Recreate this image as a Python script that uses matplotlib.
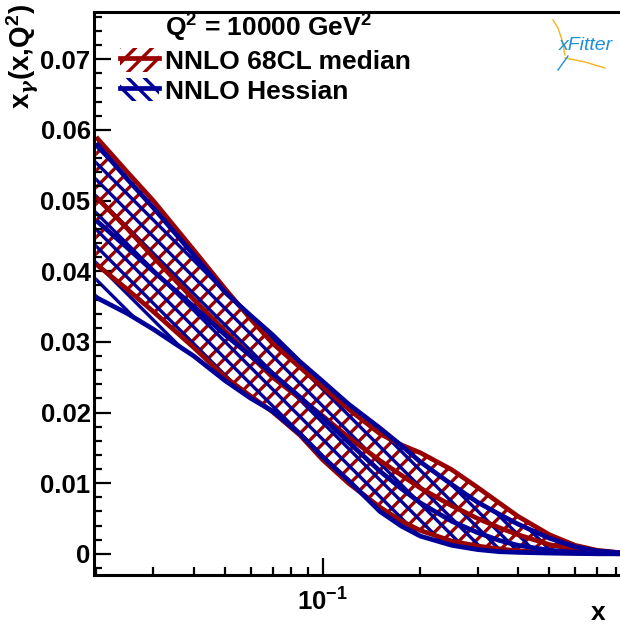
import numpy as np
import matplotlib
matplotlib.use('Agg')
import matplotlib.pyplot as plt
from matplotlib.ticker import LogLocator, FixedLocator, FuncFormatter, NullFormatter, MultipleLocator
from matplotlib.patches import Patch
from matplotlib.lines import Line2D

plt.rcParams['font.family'] = ['Liberation Sans', 'DejaVu Sans']
plt.rcParams['font.weight'] = 'bold'
plt.rcParams['mathtext.fontset'] = 'custom'
plt.rcParams['mathtext.rm'] = 'Liberation Sans:bold'
plt.rcParams['mathtext.bf'] = 'Liberation Sans:bold'
plt.rcParams['mathtext.it'] = 'DejaVu Serif:italic'
plt.rcParams['hatch.linewidth'] = 2.4

# x grid of the PDF curves
x = [0.02, 0.025, 0.03, 0.04, 0.05, 0.06, 0.07, 0.085, 0.1, 0.12, 0.15,
     0.175, 0.2, 0.25, 0.3, 0.35, 0.4, 0.5, 0.6, 0.7, 0.85]

# NNLO 68CL median band (red)
red_up = [0.0590, 0.0540, 0.0500, 0.0430, 0.0375, 0.0332, 0.0298, 0.0264, 0.0236, 0.0205, 0.0170,
          0.0154, 0.0143, 0.0119, 0.0094, 0.0072, 0.0053, 0.0027, 0.0012, 0.0005, 0.0001]
red_mid = [0.0505, 0.0460, 0.0420, 0.0360, 0.0315, 0.0280, 0.0250, 0.0220, 0.0195, 0.0165, 0.0132,
           0.0111, 0.0093, 0.0068, 0.0050, 0.0037, 0.0027, 0.0013, 0.0006, 0.0002, 0.00005]
red_lo = [0.0410, 0.0374, 0.0343, 0.0292, 0.0250, 0.0223, 0.0201, 0.0168, 0.0133, 0.0100, 0.0066,
          0.0046, 0.0033, 0.0018, 0.0011, 0.0007, 0.0004, 0.0002, 0.0001, 0.00005, 0.0]

# NNLO Hessian band (blue)
blue_up = [0.0581, 0.0530, 0.0490, 0.0423, 0.0370, 0.0337, 0.0310, 0.0272, 0.0244, 0.0212, 0.0178,
           0.0153, 0.0130, 0.0098, 0.0073, 0.0056, 0.0042, 0.0022, 0.0010, 0.0004, 0.0001]
blue_mid = [0.0472, 0.0433, 0.0400, 0.0350, 0.0310, 0.0280, 0.0255, 0.0222, 0.0193, 0.0158, 0.0117,
            0.0092, 0.0072, 0.0046, 0.0030, 0.0019, 0.0012, 0.0005, 0.0002, 0.0001, 0.0]
blue_lo = [0.0363, 0.0340, 0.0318, 0.0280, 0.0245, 0.0220, 0.0202, 0.0170, 0.0137, 0.0104, 0.0060,
           0.0039, 0.0025, 0.0012, 0.0006, 0.0003, 0.0002, 0.0001, 0.00005, 0.0, 0.0]

red = '#990000'
blue = '#000099'

fig = plt.figure(figsize=(6.2, 6.27), dpi=100)
ax = fig.add_axes([94/620, 52/627, 526/620, 563/627])

ax.fill_between(x, red_lo, red_up, facecolor='none', edgecolor=red, hatch='//', linewidth=0)
for yy in (red_up, red_mid, red_lo):
    ax.plot(x, yy, color=red, lw=3.4, solid_capstyle='butt', solid_joinstyle='round')
ax.fill_between(x, blue_lo, blue_up, facecolor='none', edgecolor=blue, hatch='\\\\', linewidth=0)
for yy in (blue_up, blue_mid, blue_lo):
    ax.plot(x, yy, color=blue, lw=3.4, solid_capstyle='butt', solid_joinstyle='round')

ax.set_xscale('log')
ax.set_xlim(0.0197, 0.825)
ax.set_ylim(-0.003, 0.0767)

ax.xaxis.set_major_locator(FixedLocator([0.1]))
ax.xaxis.set_minor_locator(LogLocator(base=10, subs=np.arange(2, 10)))
ax.xaxis.set_major_formatter(FuncFormatter(lambda v, p: r'$\mathbf{10^{-1}}$'))
ax.xaxis.set_minor_formatter(NullFormatter())
ax.yaxis.set_major_locator(MultipleLocator(0.01))
ax.yaxis.set_minor_locator(MultipleLocator(0.002))
ax.yaxis.set_major_formatter(FuncFormatter(lambda v, p: '0' if abs(v) < 1e-9 else '%.2f' % v))

ax.tick_params(which='both', direction='in', top=False, right=False, width=1.6)
ax.tick_params(which='major', length=12)
ax.tick_params(which='minor', length=6)
ax.tick_params(axis='y', labelsize=18.5, pad=2.5)
ax.tick_params(axis='x', labelsize=18.5, pad=10)
for lab in ax.get_xticklabels() + ax.get_yticklabels():
    lab.set_fontweight('bold')

for s in ('left', 'bottom', 'top'):
    ax.spines[s].set_linewidth(2.2)
ax.spines['right'].set_visible(False)

# legend
ax.text(0.135, 0.972, r'Q$^{2}$ = 10000 GeV$^{2}$', transform=ax.transAxes,
        fontsize=19, fontweight='bold', va='center', ha='left')
h_red = (Patch(facecolor='none', edgecolor=red, hatch='//', linewidth=0),
         Line2D([], [], color=red, lw=3.4))
h_blue = (Patch(facecolor='none', edgecolor=blue, hatch='\\\\', linewidth=0),
          Line2D([], [], color=blue, lw=3.4))
leg = ax.legend([h_red, h_blue], ['NNLO 68CL median', 'NNLO Hessian'],
                loc='upper left', bbox_to_anchor=(0.049, 0.936), frameon=False,
                prop={'size': 19, 'weight': 'bold'}, handlelength=1.5, handleheight=1.0,
                handletextpad=0.2, labelspacing=0.15, borderpad=0, borderaxespad=0)

# axis titles
fig.text(23/620, 1 - 4/627, r'x$_{\gamma}$(x,Q$^{2}$)', rotation=90, ha='center', va='top',
         fontsize=20, fontweight='bold')
fig.text(598/620, 1 - 613/627, 'x', ha='center', va='center', fontsize=19, fontweight='bold')

# xFitter logo
fig.text(586/620, 1 - 46/627, 'xFitter', ha='center', va='center', fontsize=14,
         style='italic', fontweight='normal', color='#1e8fd8')
fig.add_artist(Line2D([553/620, 558/620, 562/620, 565/620], [1 - 20/627, 1 - 28/627, 1 - 40/627, 1 - 55/627],
                      color='#f5b21c', lw=1))
fig.add_artist(Line2D([565/620, 585/620, 605/620], [1 - 58/627, 1 - 62/627, 1 - 68/627],
                      color='#f5b21c', lw=1))
fig.add_artist(Line2D([558/620, 568/620], [1 - 70/627, 1 - 56/627], color='#1e8fd8', lw=1))

fig.savefig('out.png', dpi=100)
